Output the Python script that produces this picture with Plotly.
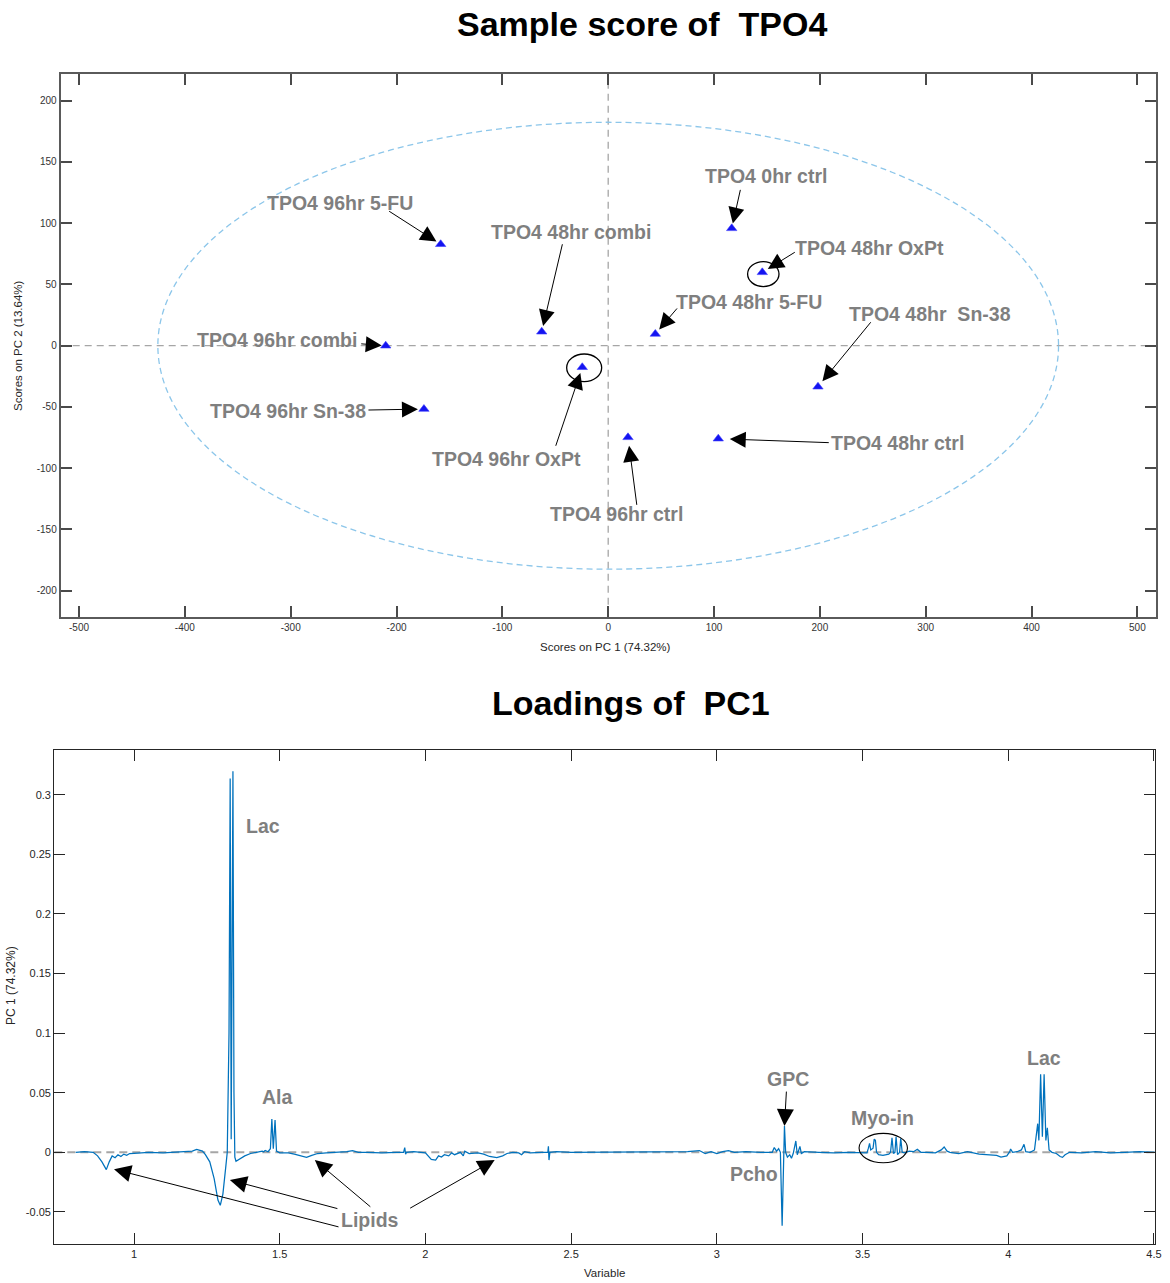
import plotly.graph_objects as go

# ---------------- PCA scores (PC1 / PC2) ----------------
sample_names = [
    "TPO4 0hr ctrl", "TPO4 48hr OxPt", "TPO4 96hr 5-FU", "TPO4 48hr combi",
    "TPO4 48hr 5-FU", "TPO4 48hr\u00a0 Sn-38", "TPO4 96hr combi", "TPO4 96hr Sn-38",
    "TPO4 96hr OxPt", "TPO4 96hr ctrl", "TPO4 48hr ctrl",
]
pc1_scores = [116.7, 145.6, -158.3, -62.8, 44.5, 198.2, -210.2, -174.1, -24.5, 18.7, 104.0]
pc2_scores = [95.8, 59.9, 82.8, 11.4, 9.6, -33.5, 0.0, -51.7, -17.6, -74.8, -75.9]

# Hotelling T2 ellipse semi-axes
ellipse_a = 425.5
ellipse_b = 182.4

score_xticks = [-500, -400, -300, -200, -100, 0, 100, 200, 300, 400, 500]
score_yticks = [-200, -150, -100, -50, 0, 50, 100, 150, 200]

# ---------------- PC1 loadings spectrum ----------------
ppm = [
    0.80, 0.83, 0.86, 0.875, 0.89, 0.905, 0.915, 0.925, 0.935, 0.945, 0.955, 0.965,
    0.975, 0.985, 1.00, 1.05, 1.10, 1.15, 1.20, 1.215, 1.225, 1.235, 1.245, 1.26,
    1.275, 1.288, 1.296, 1.305, 1.315, 1.320, 1.326, 1.330, 1.3335, 1.3365, 1.3395,
    1.343, 1.346, 1.350, 1.36, 1.38, 1.40, 1.42, 1.44, 1.445, 1.45, 1.46, 1.468,
    1.473, 1.478, 1.484, 1.489, 1.50, 1.53, 1.55, 1.575, 1.592, 1.61, 1.63, 1.66,
    1.70, 1.73, 1.75, 1.77, 1.80, 1.85, 1.90, 1.925, 1.929, 1.932, 1.935, 1.96,
    2.00, 2.01, 2.02, 2.035, 2.045, 2.055, 2.065, 2.08, 2.09, 2.10, 2.11, 2.12,
    2.13, 2.135, 2.15, 2.18, 2.20, 2.22, 2.245, 2.265, 2.28, 2.30, 2.32, 2.33,
    2.34, 2.36, 2.40, 2.420, 2.422, 2.424, 2.427, 2.45, 2.50, 2.55, 2.60, 2.65,
    2.70, 2.75, 2.80, 2.85, 2.90, 2.94, 2.96, 2.98, 3.00, 3.02, 3.04, 3.06, 3.10,
    3.15, 3.19, 3.197, 3.205, 3.212, 3.218, 3.224, 3.228, 3.232, 3.236, 3.242,
    3.25, 3.256, 3.262, 3.271, 3.276, 3.285, 3.29, 3.30, 3.35, 3.40, 3.45, 3.50,
    3.515, 3.520, 3.524, 3.528, 3.536, 3.540, 3.544, 3.548, 3.555, 3.57, 3.59,
    3.596, 3.601, 3.606, 3.611, 3.615, 3.62, 3.627, 3.631, 3.636, 3.645, 3.66,
    3.675, 3.688, 3.70, 3.72, 3.75, 3.77, 3.78, 3.79, 3.80, 3.83, 3.86, 3.90,
    3.93, 3.96, 3.975, 3.986, 3.995, 4.005, 4.008, 4.015, 4.03, 4.045, 4.054,
    4.06, 4.075, 4.09, 4.101, 4.105, 4.111, 4.117, 4.123, 4.129, 4.134, 4.14,
    4.15, 4.165, 4.178, 4.186, 4.195, 4.21, 4.25, 4.30, 4.35, 4.40, 4.45, 4.505,
]
loading_pc1 = [
    0.0, 0.0005, 0.0, -0.003, -0.008, -0.0145, -0.008, -0.003, -0.0045, -0.002, -0.0035, -0.0015,
    -0.0025, -0.001, -0.0008, 0.0, -0.0005, 0.0005, 0.001, 0.0025, 0.0015, 0.001, -0.002, -0.008,
    -0.022, -0.040, -0.0445, -0.035, -0.012, 0.0, 0.1, 0.3135, 0.011, 0.15, 0.3197,
    0.05, -0.004, -0.0075, -0.006, -0.003, -0.001, 0.0, 0.001, 0.0005, 0.0015, 0.0005, 0.003,
    0.028, 0.003, 0.027, 0.001, -0.0005, -0.0005, -0.0015, -0.0035, -0.0042, -0.0025, -0.001, -0.0005,
    0.0, 0.0005, 0.0015, 0.0, 0.0, -0.0005, 0.0, 0.0, 0.004, -0.0015, 0.0, 0.0005,
    -0.0005, -0.003, -0.006, -0.0065, -0.003, -0.004, -0.002, -0.003, -0.0005, -0.002, -0.001, 0.0,
    -0.003, 0.001, -0.001, -0.0005, -0.0015, -0.0035, -0.0045, -0.003, -0.001, 0.0, -0.0005, -0.002,
    0.0005, -0.0005, 0.0, 0.0, 0.005, -0.0065, 0.0, 0.0005, 0.0, 0.0, 0.0005, 0.0,
    0.0, 0.0005, 0.0, 0.0, 0.0005, 0.0015, -0.001, 0.0005, -0.001, 0.0005, 0.0015, 0.0, 0.0005,
    0.0, 0.0, 0.004, 0.001, 0.003, 0.0, -0.0615, 0.0, 0.022, 0.0, -0.004,
    -0.002, -0.005, -0.001, 0.0095, -0.002, 0.005, -0.001, 0.0005, 0.0, -0.0005, 0.0, 0.0,
    -0.0005, 0.0035, 0.0075, 0.002, 0.0035, 0.011, 0.010, 0.0, -0.002, -0.0025, -0.0015,
    0.0, 0.0122, -0.001, 0.0, 0.0131, -0.002, 0.0, 0.0117, 0.0, -0.0005, 0.001,
    0.0005, 0.0025, 0.0, 0.0, -0.0005, 0.002, 0.0045, 0.001, 0.0, -0.001, 0.0005, -0.0015,
    -0.002, -0.0025, -0.004, -0.0035, -0.003, 0.0005, 0.0028, 0.0, 0.0005, 0.002, 0.0067,
    0.0005, 0.0, 0.002, 0.024, 0.010, 0.0655, 0.013, 0.0655, 0.010, 0.0205, 0.002,
    0.0, -0.001, -0.0035, -0.0042, -0.002, 0.0, -0.0005, 0.0005, -0.0005, 0.0, 0.0005, 0.0,
]

loading_xticks = [1, 1.5, 2, 2.5, 3, 3.5, 4, 4.5]
loading_yticks = [-0.05, 0, 0.05, 0.1, 0.15, 0.2, 0.25, 0.3]

# ---------------- layout helpers ----------------
W, H = 1170, 1283
FONT = "Arial, Liberation Sans, Helvetica, sans-serif"
LABEL_GREY = "#7f7f7f"
LABEL_SIZE = 19.5


def paper_x(px):
    return px / W


def paper_y(py):
    return 1 - py / H


fig = go.Figure()

fig.add_trace(go.Scatter(
    x=pc1_scores, y=pc2_scores, mode="markers",
    marker=dict(symbol="triangle-up", size=9, color="#1414f0",
                line=dict(width=0.6, color="#3c3cff")),
    xaxis="x", yaxis="y", hoverinfo="text", text=sample_names,
))

fig.add_trace(go.Scatter(
    x=ppm, y=loading_pc1, mode="lines",
    line=dict(color="#0072bd", width=1.25),
    xaxis="x2", yaxis="y2",
))

shapes = []
# crosshair through the origin of the score plot
shapes.append(dict(type="line", xref="x", yref="y domain", x0=0, x1=0, y0=0, y1=1,
                   line=dict(color="#a6a6a6", width=1.3, dash="7px,5px"), layer="below"))
shapes.append(dict(type="line", xref="x domain", yref="y", x0=0, x1=1, y0=0, y1=0,
                   line=dict(color="#a6a6a6", width=1.3, dash="7px,5px"), layer="below"))
# confidence ellipse
shapes.append(dict(type="circle", xref="x", yref="y",
                   x0=-ellipse_a, x1=ellipse_a, y0=-ellipse_b, y1=ellipse_b,
                   line=dict(color="#8cc6ea", width=1.3, dash="6px,4px"), layer="below"))
# zero line of the loadings plot
shapes.append(dict(type="line", xref="x2 domain", yref="y2", x0=0, x1=1, y0=0, y1=0,
                   line=dict(color="#a6a6a6", width=2, dash="8px,5px"), layer="below"))

# circles around the OxPt samples: (sample index, dx, dy, half width, half height)
ring_marks = [(1, 1.0, -1.7, 15.7, 12.5), (8, 1.9, -0.5, 17.5, 13.8)]
for idx, dx, dy, rx, ry in ring_marks:
    shapes.append(dict(type="circle", xref="x", yref="y",
                       xsizemode="pixel", ysizemode="pixel",
                       xanchor=pc1_scores[idx], yanchor=pc2_scores[idx],
                       x0=dx - rx, x1=dx + rx, y0=dy - ry, y1=dy + ry,
                       line=dict(color="black", width=1.3)))
# Myo-inositol region ring
shapes.append(dict(type="circle", xref="x2", yref="y2",
                   xsizemode="pixel", ysizemode="pixel",
                   xanchor=3.571, yanchor=0.0036,
                   x0=-24.2, x1=24.2, y0=-14.7, y1=14.7,
                   line=dict(color="black", width=1.1)))

annotations = []

# score-plot labels: text centre offset (dx, dy) and arrow tail offset (ax, ay), in pixels
label_text_offset = [(34, 52), (107, 24), (-101, 41), (29, 100), (94, 32), (112, 73),
                     (-109, 6), (-136, -2), (-76, -92), (-11, -77), (179, -4)]
arrow_tail_offset = [(9, -40), (34, -21), (-53, -34), (21, -89), (23, -27), (54, -66),
                     (-26, -2), (-57, 1), (-27, 80), (9, 69), (112, 4)]
arrow_standoff = [5, 6.5, 5, 6, 6, 7, 4, 6, 6, 8.5, 11.5]

for i, name in enumerate(sample_names):
    dx, dy = label_text_offset[i]
    annotations.append(dict(
        x=pc1_scores[i], y=pc2_scores[i], xref="x", yref="y",
        text=f"<b>{name}</b>", showarrow=False, xshift=dx, yshift=dy,
        xanchor="center", yanchor="middle",
        font=dict(family=FONT, size=LABEL_SIZE, color=LABEL_GREY)))
    ax, ay = arrow_tail_offset[i]
    annotations.append(dict(
        x=pc1_scores[i], y=pc2_scores[i], xref="x", yref="y",
        text="", font=dict(size=1), showarrow=True, ax=ax, ay=ay,
        arrowhead=2, arrowsize=3.2, arrowwidth=1, arrowcolor="black",
        standoff=arrow_standoff[i]))

# loadings-plot metabolite labels (ppm, loading)
peak_labels = ["Lac", "Ala", "GPC", "Pcho", "Myo-in", "Lac", "Lipids"]
peak_label_pos = [(1.444, 0.2738), (1.494, 0.0464), (3.244, 0.0615), (3.127, -0.0182),
                  (3.570, 0.0288), (4.1225, 0.0791), (1.810, -0.0568)]
for txt, (lx, ly) in zip(peak_labels, peak_label_pos):
    annotations.append(dict(
        x=lx, y=ly, xref="x2", yref="y2", text=f"<b>{txt}</b>", showarrow=False,
        xanchor="center", yanchor="middle",
        font=dict(family=FONT, size=LABEL_SIZE, color=LABEL_GREY)))

# loadings-plot arrows: tip (ppm, loading) and tail offset in pixels
loading_arrow_tip = [(3.232, 0.022), (0.9314, -0.0142), (1.329, -0.0232),
                     (1.6205, -0.00645), (2.2376, -0.00645)]
loading_arrow_tail = [(2, -36), (226, 58), (109, 29), (57, 48), (-86, 49)]
for (tx, ty), (ax, ay) in zip(loading_arrow_tip, loading_arrow_tail):
    annotations.append(dict(
        x=tx, y=ty, xref="x2", yref="y2", text="", font=dict(size=1),
        showarrow=True, ax=ax, ay=ay, arrowhead=2, arrowsize=3.4,
        arrowwidth=1, arrowcolor="black", standoff=0))


def paper_text(px, py, text, size, color="#262626", angle=0):
    return dict(x=paper_x(px), y=paper_y(py), xref="paper", yref="paper",
                xanchor="center", yanchor="middle", text=text, showarrow=False,
                textangle=angle, font=dict(family=FONT, size=size, color=color))


# titles
annotations.append(paper_text(642, 24, "<b>Sample score of\u00a0\u00a0TPO4</b>", 34, "black"))
annotations.append(paper_text(631, 703, "<b>Loadings of\u00a0\u00a0PC1</b>", 34, "black"))
# axis titles
annotations.append(paper_text(605, 647, "Scores on PC 1 (74.32%)", 11.5))
annotations.append(paper_text(18, 346, "Scores on PC 2 (13.64%)", 11.5, angle=-90))
annotations.append(paper_text(604, 1273, "Variable", 11.5))
annotations.append(paper_text(11, 986, "PC 1 (74.32%)", 12, angle=-90))

common_axis = dict(showgrid=False, zeroline=False, showline=True, mirror="ticks",
                   ticks="inside", ticklen=11, automargin=False)

fig.update_layout(
    width=W, height=H, margin=dict(l=0, r=0, t=0, b=0, pad=0), autosize=False,
    paper_bgcolor="white", plot_bgcolor="white", showlegend=False,
    font=dict(family=FONT),
    xaxis=dict(domain=[paper_x(60.7), paper_x(1155.7)], range=[-517.3, 517.3],
               tickvals=score_xticks, ticktext=[f"{v:g}" for v in score_xticks],
               linecolor="#5a5a5a", linewidth=2, tickcolor="#4a4a4a", tickwidth=1.5,
               tickfont=dict(size=10, color="#333333"), anchor="y", **common_axis),
    yaxis=dict(domain=[paper_y(616.7), paper_y(74)], range=[-221.2, 221.8],
               tickvals=score_yticks, ticktext=[f"{v:g}" for v in score_yticks],
               linecolor="#5a5a5a", linewidth=2, tickcolor="#4a4a4a", tickwidth=1.5,
               tickfont=dict(size=10, color="#333333"), anchor="x", **common_axis),
    xaxis2=dict(domain=[paper_x(54.3), paper_x(1155.3)], range=[0.7265, 4.5045],
                tickvals=loading_xticks, ticktext=[f"{v:g}" for v in loading_xticks],
                linecolor="#262626", linewidth=1.3, tickcolor="#262626", tickwidth=1,
                tickfont=dict(size=11, color="#262626"), anchor="y2", **common_axis),
    yaxis2=dict(domain=[paper_y(1244), paper_y(750.3)], range=[-0.0769, 0.3372],
                tickvals=loading_yticks, ticktext=[f"{v:g}" for v in loading_yticks],
                linecolor="#262626", linewidth=1.3, tickcolor="#262626", tickwidth=1,
                tickfont=dict(size=11, color="#262626"), anchor="x2", **common_axis),
    shapes=shapes, annotations=annotations,
)

fig.write_html("out.html")
